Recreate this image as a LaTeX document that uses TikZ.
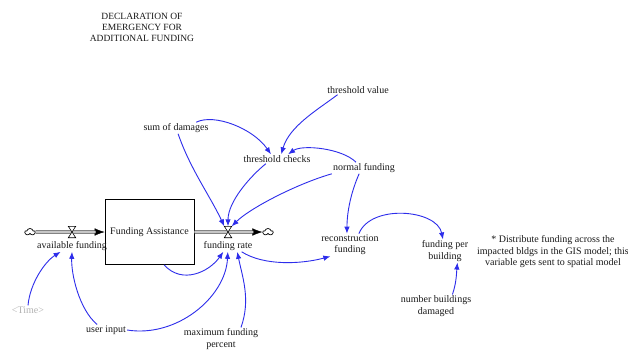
\documentclass[tikz,border=0pt]{standalone}
\usepackage{fontspec}
\setmainfont{Liberation Serif}
\usetikzlibrary{arrows.meta,shapes.symbols}
\definecolor{linkblue}{RGB}{45,45,235}
\begin{document}
\begin{tikzpicture}[x=1pt,y=-1pt,
  every node/.style={font=\fontsize{10}{11.5}\selectfont, text=black!90},
  var/.style={inner sep=1pt, align=center},
  link/.style={draw=linkblue, line width=0.9pt, -{Latex[length=7pt,width=5.5pt]}},
  pipe/.style={draw=black!80, line width=0.6pt, double=gray!45, double distance=2.2pt},
  pipetip/.style={draw=black, line width=0.4pt, -{Latex[length=10pt,width=7.5pt]}},
  valvebox/.style={minimum width=7pt, minimum height=11pt, inner sep=0pt},
  valve/.style={draw=black, fill=white, line width=0.6pt},
  cloudsrc/.style={cloud, cloud puffs=5, draw=black, line width=0.7pt,
    minimum width=10pt, minimum height=7pt, inner sep=0pt, aspect=1.4},
]
\fill[white] (0,0) rectangle (628,354);
\useasboundingbox (0,0) rectangle (628,354);

% heading
\node[var, font=\fontsize{9.5}{11}\selectfont] (title) at (142,27)
  {DECLARATION OF\\EMERGENCY FOR\\ADDITIONAL FUNDING};

% stock, sources/sinks and valves
\node[draw=black, line width=0.8pt, minimum width=89pt, minimum height=65pt,
  inner sep=0pt] (stock) at (149.5,232) {Funding Assistance};
\node[cloudsrc] (cloudL) at (30,232) {};
\node[cloudsrc] (cloudR) at (268,232) {};
\node[valvebox] (valveL) at (72,232) {};
\node[valvebox] (valveR) at (228,232) {};

% flow pipes
\draw[pipetip] (cloudL) -- (stock.west);
\draw[pipe, shorten >=9pt] (cloudL) -- (stock.west);
\draw[pipetip] (stock.east) -- (cloudR);
\draw[pipe, shorten >=9pt] (stock.east) -- (cloudR);
\draw[valve] (valveL.north west) -- (valveL.north east) -- (valveL.south west)
  -- (valveL.south east) -- cycle;
\draw[valve] (valveR.north west) -- (valveR.north east) -- (valveR.south west)
  -- (valveR.south east) -- cycle;

% variables
\node[var] (avail) at (72,246) {available funding};
\node[var] (frate) at (228,246) {funding rate};
\node[var] (sumdmg) at (176,128) {sum of damages};
\node[var] (thrchk) at (277,159) {threshold checks};
\node[var] (thrval) at (358,90) {threshold value};
\node[var] (normf) at (364,168) {normal funding};
\node[var] (recon) at (350,245) {reconstruction\\funding};
\node[var] (fpb) at (445,251) {funding per\\building};
\node[var] (note) at (553,252) {* Distribute funding across the\\impacted bldgs in the GIS model; this\\variable gets sent to spatial model};
\node[var] (nbd) at (436,306) {number buildings\\damaged};
\node[var, text=gray!60] (time) at (28,310) {<Time>};
\node[var] (uinput) at (106,330) {user input};
\node[var] (maxfp) at (221,339) {maximum funding\\percent};

% causal links
\draw[link] (sumdmg.16) .. controls +(18,-9) and +(-18,-26) .. (thrchk.142);
\draw[link] (thrval.193) .. controls +(-20,15) and +(8,-28) .. (thrchk.48);
\draw[link] (normf.144) .. controls +(-14,-14) and +(14,-10) .. (thrchk.23);
\draw[link] (sumdmg.-70) .. controls +(12,35) and +(-14,-30) .. (valveR.north west);
\draw[link] (thrchk.203) .. controls +(-15,12) and +(0,-25) .. (valveR.north);
\draw[link] (normf.south west) .. controls +(-35,10) and +(18,-18) .. (valveR.north east);
\draw[link] (normf.-130) .. controls +(-8,18) and +(0,-22) .. (recon.105);
\draw[link] (frate.-23) .. controls +(22,14) and +(-30,8) .. (recon.-150);
\draw[link] (recon.52) .. controls +(12,-30) and +(-6,-30) .. (fpb.100);
\draw[link] (nbd.35) .. controls +(4,-12) and +(-1,12) .. (fpb.-43);
\draw[link] (stock.-66) .. controls +(18,20) and +(-14,20) .. (frate.-129);
\draw[link] (uinput.east) .. controls +(50,8) and +(-2,45) .. (frate.-92);
\draw[link] (maxfp.30) .. controls +(10,-28) and +(5,25) .. (frate.-32);
\draw[link] (uinput.148) .. controls +(-18,-15) and +(-1,22) .. (avail.south);
\draw[link] (time.north) .. controls +(2,-22) and +(-16,10) .. (avail.-153);
\end{tikzpicture}
\end{document}
